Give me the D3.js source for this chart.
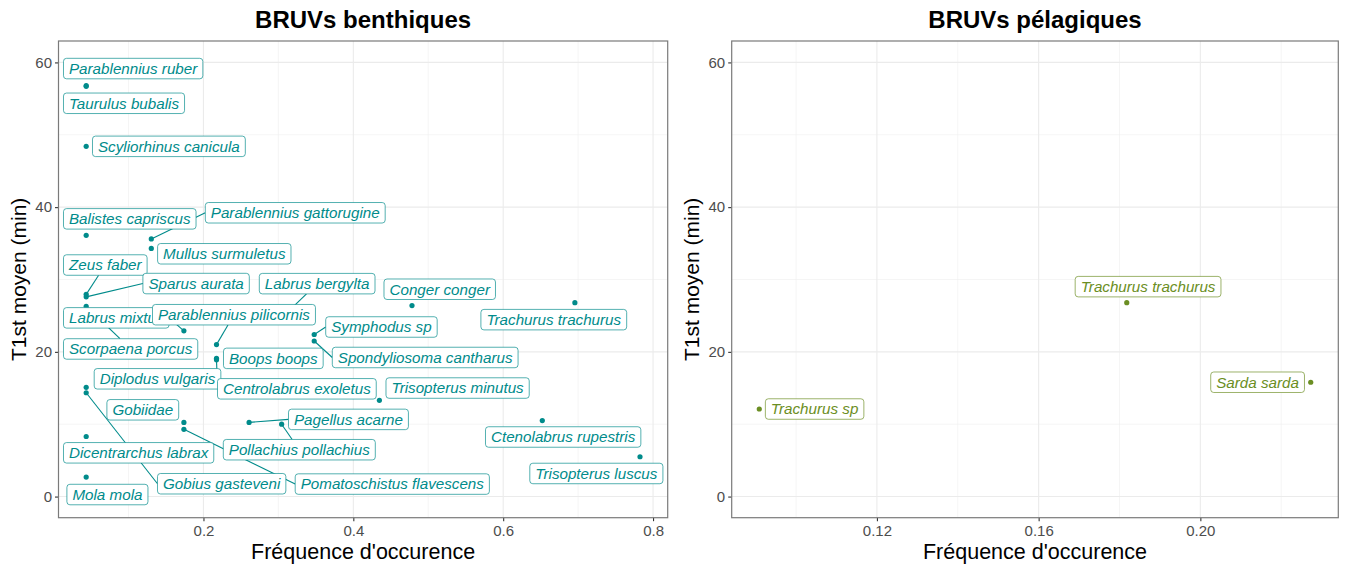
<!DOCTYPE html>
<html><head><meta charset="utf-8">
<script src="https://cdn.jsdelivr.net/npm/d3@7"></script>
<style>body{margin:0;background:#fff}</style>
</head><body>
<svg id="chart" width="1346" height="564"></svg>
<script>
// ---------------- DATA ----------------
const benthicSpecies = [
  "Parablennius ruber","Taurulus bubalis","Scyliorhinus canicula","Balistes capriscus",
  "Parablennius gattorugine","Mullus surmuletus","Zeus faber","Sparus aurata",
  "Scorpaena porcus","Labrus mixtus","Labrus bergylta","Parablennius pilicornis",
  "Boops boops","Diplodus vulgaris","Centrolabrus exoletus","Gobius gasteveni",
  "Gobiidae","Pomatoschistus flavescens","Pagellus acarne","Pollachius pollachius",
  "Dicentrarchus labrax","Mola mola","Symphodus sp","Spondyliosoma cantharus",
  "Conger conger","Trisopterus minutus","Trachurus trachurus","Ctenolabrus rupestris",
  "Trisopterus luscus"
];
const benthicFrequency = [
  0.0435,0.0435,0.0435,0.0435,
  0.1304,0.1304,0.0435,0.0435,
  0.0435,0.1739,0.3043,0.2174,
  0.2174,0.0435,0.2174,0.0435,
  0.1739,0.1739,0.2609,0.3043,
  0.0435,0.0435,0.3478,0.3478,
  0.4783,0.4348,0.6957,0.6522,
  0.7826
];
const benthicT1 = [
  56.8,56.7,48.4,36.1,
  35.6,34.3,27.95,27.6,
  26.3,22.9,24.7,21.0,
  19.1,15.1,18.9,14.35,
  10.25,9.3,10.25,10.0,
  8.3,2.7,22.4,21.5,
  26.4,13.3,26.8,10.5,
  5.5
];
const pelagicSpecies = ["Trachurus sp","Trachurus trachurus","Sarda sarda"];
const pelagicFrequency = [0.0909,0.1818,0.2273];
const pelagicT1 = [12.1,26.8,15.8];

const yTicks = [0,20,40,60];
const yMinorTicks = [10,30,50];
const benthicXTicks = [0.2,0.4,0.6,0.8];
const benthicXMinor = [0.1,0.3,0.5,0.7];
const pelagicXTicks = [0.12,0.16,0.20];
const pelagicXMinor = [0.10,0.14,0.18,0.22];

const panelTitles = ["BRUVs benthiques","BRUVs pélagiques"];
const xTitle = "Fréquence d'occurence";
const yTitle = "T1st moyen (min)";

// ---------------- LAYOUT (label placement, px relative to point) ----------------
// [box-left offset, box-center-y offset]
const benthicLabelOffsets = [
  [-22.7,-17],[-22.7,17],[6.3,0],[-22.7,-16.5],
  [54,-26.2],[6.3,5.4],[-22.7,-29.3],[56.7,-13.3],
  [-22.7,42.7],[-120.4,-13],[-22.3,-34.2],[-64,-29.9],
  [7,0],[8,-8.5],[1,29],[71.3,91],
  [-77,-12.6],[111.3,54.8],[39.4,-3],[-58.3,25.5],
  [-22.7,16.3],[-19.3,17.5],[11.5,-7.5],[18.1,16.5],
  [-28,-16.3],[6.6,-12.3],[-94,17],[-56.8,16.4],
  [-110.2,16.7]
];
const pelagicLabelOffsets = [[6.1,0],[-51.6,-16],[-100,0]];

const W = 1346, H = 564;
const panelTop = 41, panelBottom = 517.7;
const panels = [
  {x0:58.5, x1:667.7, color:"#008B8B", species:benthicSpecies, fx:benthicFrequency, ty:benthicT1,
   offsets:benthicLabelOffsets, ticks:benthicXTicks, minor:benthicXMinor, fmt:d3.format(".1f"), title:panelTitles[0]},
  {x0:731.7, x1:1338.3, color:"#6B8E23", species:pelagicSpecies, fx:pelagicFrequency, ty:pelagicT1,
   offsets:pelagicLabelOffsets, ticks:pelagicXTicks, minor:pelagicXMinor, fmt:d3.format(".2f"), title:panelTitles[1]}
];

const FONT = "'Liberation Sans', Arial, Helvetica, sans-serif";
const svg = d3.select("#chart");
svg.append("rect").attr("width",W).attr("height",H).attr("fill","#fff");

// shared y scale (facets share y)
const yDomain = [-2.92, 62.96];
const y = d3.scaleLinear().domain(yDomain).range([panelBottom, panelTop]);

function expand(ext){ const r = ext[1]-ext[0]; return [ext[0]-0.05*r, ext[1]+0.05*r]; }

panels.forEach((p, pi) => {
  const x = d3.scaleLinear().domain(expand(d3.extent(p.fx))).range([p.x0, p.x1]);
  const g = svg.append("g");
  const clipId = "clip"+pi;
  svg.append("clipPath").attr("id",clipId).append("rect")
    .attr("x",p.x0).attr("y",panelTop).attr("width",p.x1-p.x0).attr("height",panelBottom-panelTop);

  // grid
  const grid = g.append("g");
  p.minor.forEach(v => grid.append("line").attr("x1",x(v)).attr("x2",x(v)).attr("y1",panelTop).attr("y2",panelBottom)
    .attr("stroke","#EEEEEE").attr("stroke-width",0.6));
  yMinorTicks.forEach(v => grid.append("line").attr("x1",p.x0).attr("x2",p.x1).attr("y1",y(v)).attr("y2",y(v))
    .attr("stroke","#EEEEEE").attr("stroke-width",0.6));
  p.ticks.forEach(v => grid.append("line").attr("x1",x(v)).attr("x2",x(v)).attr("y1",panelTop).attr("y2",panelBottom)
    .attr("stroke","#EBEBEB").attr("stroke-width",1.1));
  yTicks.forEach(v => grid.append("line").attr("x1",p.x0).attr("x2",p.x1).attr("y1",y(v)).attr("y2",y(v))
    .attr("stroke","#EBEBEB").attr("stroke-width",1.1));

  // axes
  const xAxis = g.append("g").attr("transform",`translate(0,${panelBottom})`)
    .call(d3.axisBottom(x).tickValues(p.ticks).tickFormat(p.fmt).tickSize(3.5).tickPadding(4));
  const yAxis = g.append("g").attr("transform",`translate(${p.x0},0)`)
    .call(d3.axisLeft(y).tickValues(yTicks).tickFormat(d3.format("d")).tickSize(3.5).tickPadding(3));
  [xAxis,yAxis].forEach(a => {
    a.select(".domain").remove();
    a.selectAll(".tick line").attr("stroke","#333").attr("stroke-width",1.1);
    a.selectAll(".tick text").attr("fill","#4D4D4D").style("font-family",FONT).style("font-size","15px");
  });
  xAxis.selectAll(".tick text").attr("dy","0.71em");

  // points
  const plot = g.append("g").attr("clip-path",`url(#${clipId})`);
  const pts = p.species.map((s,i) => ({name:s, px:x(p.fx[i]), py:y(p.ty[i]), off:p.offsets[i]}));
  plot.selectAll("circle").data(pts).enter().append("circle")
    .attr("cx",d=>d.px).attr("cy",d=>d.py).attr("r",2.6).attr("fill",p.color);

  // measure label boxes
  const PAD = 5.5, BH = 20.5;
  const meas = svg.append("text").style("font-family",FONT).style("font-size","15.2px").style("font-style","italic");
  pts.forEach(d => {
    meas.text(d.name);
    const tw = meas.node().getComputedTextLength();
    d.bx1 = d.px + d.off[0];
    d.bx2 = d.bx1 + tw + 2*PAD;
    d.by1 = d.py + d.off[1] - BH/2;
    d.by2 = d.by1 + BH;
  });
  meas.remove();

  // segments (ggrepel-like connection; hidden when label is close to its point)
  function segEnd(d){
    const cx=(d.bx1+d.bx2)/2, cy=(d.by1+d.by2)/2;
    if (d.px < d.bx1) return [d.bx1, cy];
    if (d.px > d.bx2) return [d.bx2, cy];
    if (d.py >= d.by1 && d.py <= d.by2) return null;
    const ey = d.py < d.by1 ? d.by1 : d.by2;
    const t = (ey-cy)/(d.py-cy);
    return [cx + t*(d.px-cx), ey];
  }
  pts.forEach(d => {
    const e = segEnd(d);
    if (!e) return;
    const qx = Math.max(d.bx1, Math.min(d.px, d.bx2));
    const qy = Math.max(d.by1, Math.min(d.py, d.by2));
    const gap = Math.hypot(qx-d.px, qy-d.py);
    if (gap < 10) return;
    plot.append("line").attr("x1",e[0]).attr("y1",e[1]).attr("x2",d.px).attr("y2",d.py)
      .attr("stroke",p.color).attr("stroke-width",1.1);
  });

  // labels
  pts.forEach(d => {
    const lg = plot.append("g");
    lg.append("rect").attr("x",d.bx1).attr("y",d.by1).attr("width",d.bx2-d.bx1).attr("height",BH)
      .attr("rx",3).attr("ry",3).attr("fill","#fff").attr("stroke",p.color).attr("stroke-opacity",0.75).attr("stroke-width",0.9);
    lg.append("text").attr("x",d.bx1+PAD).attr("y",(d.by1+d.by2)/2+5.4).text(d.name)
      .attr("fill",p.color).style("font-family",FONT).style("font-size","15.2px").style("font-style","italic");
  });

  // panel border
  g.append("rect").attr("x",p.x0).attr("y",panelTop).attr("width",p.x1-p.x0).attr("height",panelBottom-panelTop)
    .attr("fill","none").attr("stroke","#7a7a7a").attr("stroke-width",1.2);

  // titles
  const cxp = (p.x0+p.x1)/2;
  svg.append("text").attr("x",cxp).attr("y",28).attr("text-anchor","middle").text(p.title)
    .style("font-family",FONT).style("font-size","24px").style("font-weight","bold").attr("fill","#000");
  svg.append("text").attr("x",cxp).attr("y",558.5).attr("text-anchor","middle").text(xTitle)
    .style("font-family",FONT).style("font-size","21.5px").attr("fill","#000");
  const yc = (panelTop+panelBottom)/2;
  svg.append("text").attr("transform",`translate(${p.x0-33},${yc}) rotate(-90)`).attr("text-anchor","middle").text(yTitle)
    .style("font-family",FONT).style("font-size","21px").attr("fill","#000");
});
</script>
</body></html>
